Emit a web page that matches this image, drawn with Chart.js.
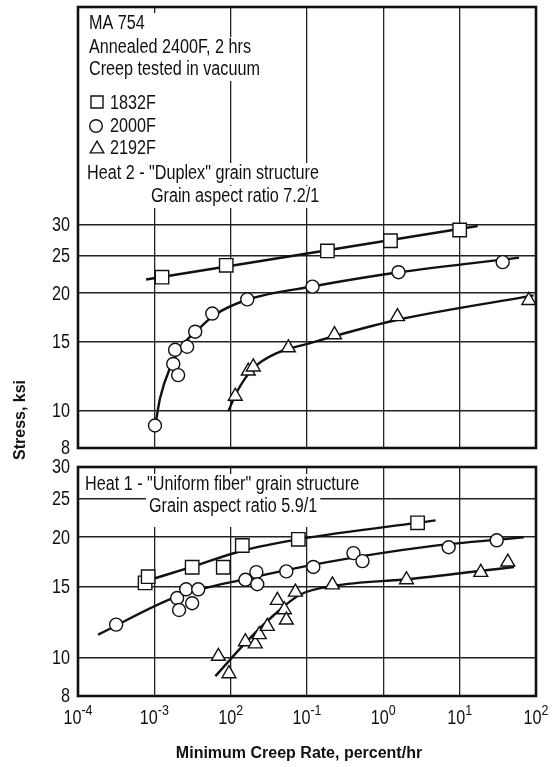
<!DOCTYPE html>
<html>
<head>
<meta charset="utf-8">
<title>MA 754 creep</title>
<script src="https://cdn.jsdelivr.net/npm/chart.js@4.4.1/dist/chart.umd.min.js"></script>
<style>
  html, body { margin: 0; padding: 0; background: #fff; }
  #wrap { position: relative; width: 560px; height: 767px; }
  #wrap canvas { position: absolute; left: 0; }
  #topChart { top: 0; }
  #bottomChart { top: 456px; }
  #yTitle {
    position: absolute; left: 20px; top: 420px;
    transform: translate(-50%, -50%) rotate(-90deg);
    font: bold 16px 'Liberation Sans', Arial, sans-serif;
    color: #111; white-space: nowrap;
  }
</style>
</head>
<body>
<div id="wrap">
  <canvas id="topChart" width="560" height="456"></canvas>
  <canvas id="bottomChart" width="560" height="311"></canvas>
  <div id="yTitle">Stress, ksi</div>
</div>
<script>
// Axis ticks
const rateTicks = [1e-4, 1e-3, 1e-2, 1e-1, 1, 10, 100];
const rateTickExponents = ['-4', '-3', '2', '-1', '0', '1', '2'];
const stressTicks = [8, 10, 15, 20, 25, 30];

// Heat 2 - duplex grain structure (upper panel)
const h2Rate1832 = [1.26e-3, 8.75e-3, 0.185, 1.24, 10];
const h2Stress1832 = [22.0, 23.6, 25.7, 27.3, 29.1];
const h2Rate2000 = [1.02e-3, 1.77e-3, 2.05e-3, 1.87e-3, 2.69e-3, 3.43e-3, 5.74e-3, 0.0165, 0.118, 1.58, 36.6];
const h2Stress2000 = [9.14, 13.16, 12.32, 14.31, 14.57, 15.93, 17.74, 19.29, 20.8, 22.66, 24.05];
const h2Rate2192 = [0.0115, 0.0170, 0.0198, 0.057, 0.229, 1.53, 80.5];
const h2Stress2192 = [10.87, 12.62, 12.93, 14.48, 15.65, 17.42, 19.17];

// Heat 2 hand-drawn trend curves
const h2CurveRate1832 = [7.8e-4, 17.2];
const h2CurveStress1832 = [21.7, 29.8];
const h2CurveRate2000 = [1.0e-3, 1.19e-3, 1.61e-3, 2.41e-3, 3.61e-3, 5.97e-3, 0.0164, 0.122, 1.6, 60];
const h2CurveStress2000 = [8.82, 10.76, 12.87, 14.8, 16.03, 17.52, 19.25, 20.85, 22.65, 24.7];
const h2CurveRate2192 = [0.0093, 0.0122, 0.02, 0.041, 0.101, 1.36, 93];
const h2CurveStress2192 = [9.94, 11.2, 12.85, 14.06, 14.83, 17.0, 19.75];

// Heat 1 - uniform fiber grain structure (lower panel)
const h1Rate1832 = [7.57e-4, 8.3e-4, 3.13e-3, 8.0e-3, 0.0142, 0.077, 2.81];
const h1Stress1832 = [15.37, 15.93, 16.82, 16.82, 19.07, 19.76, 21.74];
const h1Rate2000 = [3.16e-4, 1.99e-3, 2.11e-3, 2.61e-3, 3.13e-3, 3.76e-3, 0.0156, 0.0217, 0.0223, 0.0536, 0.121, 0.406, 0.533, 7.18, 30.6];
const h1Stress2000 = [12.08, 14.08, 13.14, 14.81, 13.67, 14.81, 15.65, 16.35, 15.25, 16.42, 16.85, 18.25, 17.43, 18.88, 19.65];
const h1Rate2192 = [6.9e-3, 9.5e-3, 0.0156, 0.021, 0.0237, 0.0302, 0.0409, 0.0505, 0.0536, 0.0705, 0.215, 2.01, 18.9, 42.7];
const h1Stress2192 = [10.06, 9.1, 10.94, 10.81, 11.40, 11.96, 13.89, 13.16, 12.40, 14.57, 15.19, 15.65, 16.33, 17.33];

// Heat 1 hand-drawn trend curves
const h1CurveRate1832 = [8.8e-4, 3.1e-3, 0.0141, 0.0764, 4.84];
const h1CurveStress1832 = [15.65, 16.85, 18.5, 19.76, 22.04];
const h1CurveRate2000 = [1.83e-4, 2.0e-3, 0.0165, 0.185, 3.8, 69];
const h1CurveStress2000 = [11.4, 14.22, 15.75, 17.33, 18.95, 20.0];
const h1CurveRate2192 = [6.3e-3, 0.0164, 0.0366, 0.0818, 0.224, 2.27, 51.6];
const h1CurveStress2192 = [8.97, 10.98, 12.75, 14.37, 15.1, 15.72, 16.85];

const FONT = "'Liberation Sans', Arial, sans-serif";
const INK = '#111';
const NARROW = 0.83;   // horizontal squeeze, gives the condensed lettering

const toPoints = (xs, ys) => xs.map((x, i) => ({ x: x, y: ys[i] }));

function markers(rates, stresses, style, radius) {
    return {
        data: toPoints(rates, stresses),
        pointStyle: style,
        pointRadius: radius,
        backgroundColor: '#fff',
        borderColor: INK,
        borderWidth: 1.4,
        showLine: false,
        order: 0
    };
}

function curve(rates, stresses) {
    return {
        data: toPoints(rates, stresses),
        showLine: true,
        pointRadius: 0,
        borderColor: INK,
        borderWidth: 2.4,
        cubicInterpolationMode: 'monotone',
        fill: false,
        order: 1
    };
}

// Condensed text: returns the drawn width
function narrowText(ctx, text, x, y, size, align) {
    ctx.save();
    ctx.font = size + 'px ' + FONT;
    ctx.textBaseline = 'middle';
    ctx.textAlign = align || 'left';
    ctx.translate(x, y);
    ctx.scale(NARROW, 1);
    ctx.fillStyle = INK;
    ctx.fillText(text, 0, 0);
    const w = ctx.measureText(text).width * NARROW;
    ctx.restore();
    return w;
}

function narrowWidth(ctx, text, size) {
    ctx.save();
    ctx.font = size + 'px ' + FONT;
    const w = ctx.measureText(text).width * NARROW;
    ctx.restore();
    return w;
}

// Text blocks with white backing, legend glyphs, frame and axis labels
const panelDecor = {
    id: 'panelDecor',
    beforeDatasetsDraw(chart, args, opts) {
        const ctx = chart.ctx;
        ctx.save();
        ctx.fillStyle = '#fff';
        (opts.masks || []).forEach(m => ctx.fillRect(m[0], m[1], m[2], m[3]));
        (opts.notes || []).forEach(n => {
            const w = narrowWidth(ctx, n.text, 19.5);
            const up = n.up || 11, down = n.down || 11;
            ctx.fillStyle = '#fff';
            ctx.fillRect(n.x - 3, n.y - up, w + 6, up + down);
            narrowText(ctx, n.text, n.x, n.y, 19.5);
        });
        (opts.symbols || []).forEach(s => {
            ctx.fillStyle = '#fff';
            ctx.strokeStyle = INK;
            ctx.lineWidth = 1.4;
            Chart.helpers.drawPoint(ctx, { pointStyle: s.style, radius: s.r, rotation: 0, borderWidth: 1.4 }, s.x, s.y);
        });
        ctx.restore();
    },
    afterDraw(chart, args, opts) {
        const ctx = chart.ctx;
        const a = chart.chartArea;
        ctx.save();
        ctx.strokeStyle = INK;
        ctx.lineWidth = 2.6;
        ctx.strokeRect(a.left, a.top, a.right - a.left, a.bottom - a.top);

        // stress tick labels
        const ys = chart.scales.y;
        stressTicks.forEach(v => narrowText(ctx, String(v), 70, ys.getPixelForValue(v) + 1, 19.5, 'right'));

        if (opts.rateLabels) {
            const xs = chart.scales.x;
            rateTicks.forEach((v, i) => {
                const wb = narrowWidth(ctx, '10', 19.5);
                const ws = narrowWidth(ctx, rateTickExponents[i], 15);
                const x0 = xs.getPixelForValue(v) - (wb + ws) / 2;
                narrowText(ctx, '10', x0, a.bottom + 23, 19.5);
                narrowText(ctx, rateTickExponents[i], x0 + wb, a.bottom + 15, 15);
            });
            ctx.fillStyle = INK;
            ctx.font = 'bold 16px ' + FONT;
            ctx.textAlign = 'center';
            ctx.textBaseline = 'middle';
            ctx.fillText(opts.xTitle, 299, a.bottom + 58);
        }
        ctx.restore();
    }
};

function panelOptions(yMax, topPad, xHeight, decor) {
    return {
        responsive: false,
        devicePixelRatio: 1,
        animation: false,
        events: [],
        layout: { autoPadding: false, padding: { left: 0, right: 24, top: topPad, bottom: 0 } },
        plugins: {
            legend: { display: false },
            tooltip: { enabled: false },
            panelDecor: decor
        },
        scales: {
            x: {
                type: 'logarithmic',
                min: 1e-4,
                max: 100,
                afterBuildTicks: s => { s.ticks = rateTicks.map(v => ({ value: v })); },
                afterFit: s => { s.height = xHeight; s.paddingLeft = 0; s.paddingRight = 0; },
                ticks: { display: false },
                border: { display: false },
                grid: { color: '#222', lineWidth: 1.3, drawTicks: false }
            },
            y: {
                type: 'logarithmic',
                min: 8,
                max: yMax,
                afterBuildTicks: s => { s.ticks = stressTicks.map(v => ({ value: v })); },
                afterFit: s => { s.width = 78; s.paddingTop = 0; s.paddingBottom = 0; },
                ticks: { display: false },
                border: { display: false },
                grid: { color: '#222', lineWidth: 1.6, drawTicks: false }
            }
        }
    };
}

// Upper panel: heat 2
new Chart(document.getElementById('topChart'), {
    type: 'scatter',
    data: {
        datasets: [
            markers(h2Rate1832, h2Stress1832, 'rect', 9.5),
            markers(h2Rate2000, h2Stress2000, 'circle', 6.5),
            markers(h2Rate2192, h2Stress2192, 'triangle', 8),
            curve(h2CurveRate1832, h2CurveStress1832),
            curve(h2CurveRate2000, h2CurveStress2000),
            curve(h2CurveRate2192, h2CurveStress2192)
        ]
    },
    options: panelOptions(109, 7, 8, {
        masks: [[84, 13, 76, 194]],
        notes: [
            { text: 'MA 754', x: 89, y: 24 },
            { text: 'Annealed 2400F, 2 hrs', x: 89, y: 48 },
            { text: 'Creep tested in vacuum', x: 89, y: 70 },
            { text: '1832F', x: 110, y: 104 },
            { text: '2000F', x: 110, y: 127 },
            { text: '2192F', x: 110, y: 149 },
            { text: 'Heat 2 - "Duplex" grain structure', x: 87, y: 174 },
            { text: 'Grain aspect ratio 7.2/1', x: 151, y: 197 }
        ],
        symbols: [
            { style: 'rect', r: 8.5, x: 97, y: 102 },
            { style: 'circle', r: 6.3, x: 96, y: 126 },
            { style: 'triangle', r: 7.8, x: 97, y: 149 }
        ]
    }),
    plugins: [panelDecor]
});

// Lower panel: heat 1
new Chart(document.getElementById('bottomChart'), {
    type: 'scatter',
    data: {
        datasets: [
            markers(h1Rate1832, h1Stress1832, 'rect', 9.5),
            markers(h1Rate2000, h1Stress2000, 'circle', 6.5),
            markers(h1Rate2192, h1Stress2192, 'triangle', 8),
            curve(h1CurveRate1832, h1CurveStress1832),
            curve(h1CurveRate2000, h1CurveStress2000),
            curve(h1CurveRate2192, h1CurveStress2192)
        ]
    },
    options: panelOptions(30, 11, 71, {
        notes: [
            { text: 'Heat 1 - "Uniform fiber" grain structure', x: 85, y: 29 },
            { text: 'Grain aspect ratio 5.9/1', x: 149, y: 51, down: 20 }
        ],
        rateLabels: true,
        xTitle: 'Minimum Creep Rate, percent/hr'
    }),
    plugins: [panelDecor]
});
</script>
</body>
</html>
